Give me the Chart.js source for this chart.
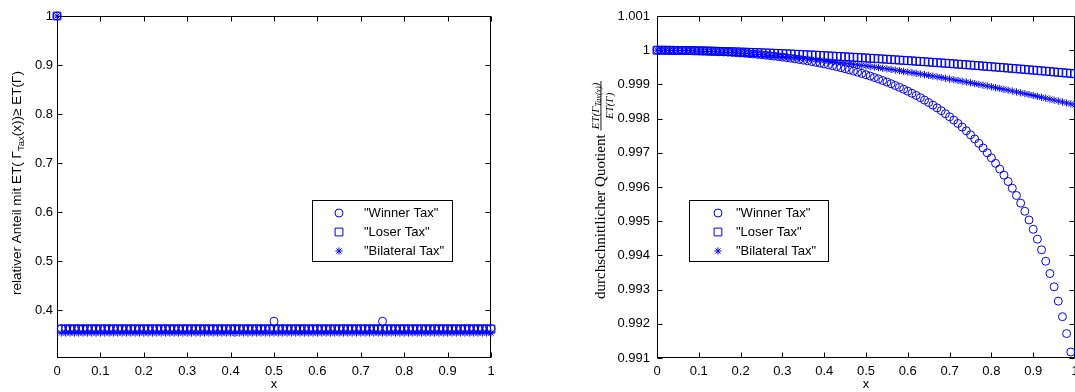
<!DOCTYPE html>
<html lang="de">
<head>
<meta charset="UTF-8">
<title>Winner / Loser / Bilateral Tax</title>
<script src="https://cdn.jsdelivr.net/npm/chart.js@4.4.0/dist/chart.umd.min.js"></script>
<style>
  body { margin: 0; background: #fff; }
  #wrap { position: relative; width: 1075px; height: 392px; overflow: hidden; }
  #left { position: absolute; left: 0; top: 0; }
  #right { position: absolute; left: 560px; top: 0; }
</style>
</head>
<body>
<div id="wrap">
  <canvas id="left" width="540" height="392"></canvas>
  <canvas id="right" width="530" height="392"></canvas>
</div>
<script>
// x grid shared by both panels
const xValues = [
  0, 0.01, 0.02, 0.03, 0.04, 0.05, 0.06, 0.07, 0.08, 0.09,
  0.1, 0.11, 0.12, 0.13, 0.14, 0.15, 0.16, 0.17, 0.18, 0.19,
  0.2, 0.21, 0.22, 0.23, 0.24, 0.25, 0.26, 0.27, 0.28, 0.29,
  0.3, 0.31, 0.32, 0.33, 0.34, 0.35, 0.36, 0.37, 0.38, 0.39,
  0.4, 0.41, 0.42, 0.43, 0.44, 0.45, 0.46, 0.47, 0.48, 0.49,
  0.5, 0.51, 0.52, 0.53, 0.54, 0.55, 0.56, 0.57, 0.58, 0.59,
  0.6, 0.61, 0.62, 0.63, 0.64, 0.65, 0.66, 0.67, 0.68, 0.69,
  0.7, 0.71, 0.72, 0.73, 0.74, 0.75, 0.76, 0.77, 0.78, 0.79,
  0.8, 0.81, 0.82, 0.83, 0.84, 0.85, 0.86, 0.87, 0.88, 0.89,
  0.9, 0.91, 0.92, 0.93, 0.94, 0.95, 0.96, 0.97, 0.98, 0.99,
  1
];

// left panel: relativer Anteil
const leftWinner = [
  1, 0.362, 0.362, 0.362, 0.362, 0.362, 0.362, 0.362, 0.362, 0.362,
  0.362, 0.362, 0.362, 0.362, 0.362, 0.362, 0.362, 0.362, 0.362, 0.362,
  0.362, 0.362, 0.362, 0.362, 0.362, 0.362, 0.362, 0.362, 0.362, 0.362,
  0.362, 0.362, 0.362, 0.362, 0.362, 0.362, 0.362, 0.362, 0.362, 0.362,
  0.362, 0.362, 0.362, 0.362, 0.362, 0.362, 0.362, 0.362, 0.362, 0.362,
  0.377, 0.362, 0.362, 0.362, 0.362, 0.362, 0.362, 0.362, 0.362, 0.362,
  0.362, 0.362, 0.362, 0.362, 0.362, 0.362, 0.362, 0.362, 0.362, 0.362,
  0.362, 0.362, 0.362, 0.362, 0.362, 0.377, 0.362, 0.362, 0.362, 0.362,
  0.362, 0.362, 0.362, 0.362, 0.362, 0.362, 0.362, 0.362, 0.362, 0.362,
  0.362, 0.362, 0.362, 0.362, 0.362, 0.362, 0.362, 0.362, 0.362, 0.362,
  0.362
];
const leftLoser = [
  1, 0.361, 0.361, 0.361, 0.361, 0.361, 0.361, 0.361, 0.361, 0.361,
  0.361, 0.361, 0.361, 0.361, 0.361, 0.361, 0.361, 0.361, 0.361, 0.361,
  0.361, 0.361, 0.361, 0.361, 0.361, 0.361, 0.361, 0.361, 0.361, 0.361,
  0.361, 0.361, 0.361, 0.361, 0.361, 0.361, 0.361, 0.361, 0.361, 0.361,
  0.361, 0.361, 0.361, 0.361, 0.361, 0.361, 0.361, 0.361, 0.361, 0.361,
  0.361, 0.361, 0.361, 0.361, 0.361, 0.361, 0.361, 0.361, 0.361, 0.361,
  0.361, 0.361, 0.361, 0.361, 0.361, 0.361, 0.361, 0.361, 0.361, 0.361,
  0.361, 0.361, 0.361, 0.361, 0.361, 0.361, 0.361, 0.361, 0.361, 0.361,
  0.361, 0.361, 0.361, 0.361, 0.361, 0.361, 0.361, 0.361, 0.361, 0.361,
  0.361, 0.361, 0.361, 0.361, 0.361, 0.361, 0.361, 0.361, 0.361, 0.361,
  0.361
];
const leftBilateral = [
  1, 0.353, 0.353, 0.353, 0.353, 0.353, 0.353, 0.353, 0.353, 0.353,
  0.353, 0.353, 0.353, 0.353, 0.353, 0.353, 0.353, 0.353, 0.353, 0.353,
  0.353, 0.353, 0.353, 0.353, 0.353, 0.353, 0.353, 0.353, 0.353, 0.353,
  0.353, 0.353, 0.353, 0.353, 0.353, 0.353, 0.353, 0.353, 0.353, 0.353,
  0.353, 0.352, 0.353, 0.353, 0.353, 0.353, 0.353, 0.353, 0.353, 0.353,
  0.353, 0.353, 0.353, 0.353, 0.353, 0.353, 0.353, 0.353, 0.353, 0.353,
  0.353, 0.353, 0.353, 0.353, 0.353, 0.353, 0.353, 0.353, 0.353, 0.353,
  0.353, 0.353, 0.353, 0.353, 0.353, 0.353, 0.353, 0.353, 0.353, 0.353,
  0.353, 0.353, 0.353, 0.353, 0.353, 0.353, 0.353, 0.353, 0.353, 0.353,
  0.353, 0.353, 0.353, 0.353, 0.353, 0.353, 0.353, 0.353, 0.353, 0.353,
  0.353
];

// right panel: durchschnittlicher Quotient
const rightWinner = [
  1.000000, 1.000000, 0.999999, 0.999998, 0.999997, 0.999996, 0.999994, 0.999991, 0.999988, 0.999985,
  0.999982, 0.999978, 0.999973, 0.999968, 0.999963, 0.999957, 0.999950, 0.999943, 0.999936, 0.999928,
  0.999919, 0.999910, 0.999900, 0.999890, 0.999879, 0.999867, 0.999855, 0.999842, 0.999828, 0.999813,
  0.999798, 0.999782, 0.999765, 0.999747, 0.999729, 0.999709, 0.999689, 0.999668, 0.999645, 0.999622,
  0.999597, 0.999572, 0.999545, 0.999517, 0.999488, 0.999457, 0.999425, 0.999392, 0.999357, 0.999321,
  0.999283, 0.999244, 0.999202, 0.999159, 0.999114, 0.999068, 0.999019, 0.998968, 0.998915, 0.998859,
  0.998801, 0.998740, 0.998677, 0.998611, 0.998541, 0.998469, 0.998393, 0.998314, 0.998231, 0.998144,
  0.998053, 0.997958, 0.997858, 0.997753, 0.997643, 0.997527, 0.997405, 0.997277, 0.997142, 0.997000,
  0.996850, 0.996692, 0.996525, 0.996348, 0.996161, 0.995963, 0.995752, 0.995528, 0.995290, 0.995036,
  0.994764, 0.994474, 0.994163, 0.993829, 0.993470, 0.993082, 0.992663, 0.992208, 0.991714, 0.991175,
  0.990584
];
const rightLoser = [
  1.000000, 1.000000, 0.999999, 0.999997, 0.999996, 0.999994, 0.999992, 0.999990, 0.999988, 0.999985,
  0.999983, 0.999980, 0.999977, 0.999974, 0.999970, 0.999967, 0.999963, 0.999959, 0.999956, 0.999952,
  0.999947, 0.999943, 0.999939, 0.999934, 0.999930, 0.999925, 0.999920, 0.999915, 0.999910, 0.999905,
  0.999899, 0.999894, 0.999889, 0.999883, 0.999877, 0.999871, 0.999865, 0.999859, 0.999853, 0.999847,
  0.999841, 0.999834, 0.999828, 0.999821, 0.999815, 0.999808, 0.999801, 0.999794, 0.999787, 0.999780,
  0.999772, 0.999765, 0.999758, 0.999750, 0.999743, 0.999735, 0.999727, 0.999719, 0.999711, 0.999703,
  0.999695, 0.999687, 0.999679, 0.999671, 0.999662, 0.999654, 0.999645, 0.999636, 0.999628, 0.999619,
  0.999610, 0.999601, 0.999592, 0.999583, 0.999574, 0.999565, 0.999555, 0.999546, 0.999536, 0.999527,
  0.999517, 0.999507, 0.999498, 0.999488, 0.999478, 0.999468, 0.999458, 0.999448, 0.999438, 0.999427,
  0.999417, 0.999407, 0.999396, 0.999386, 0.999375, 0.999364, 0.999354, 0.999343, 0.999332, 0.999321,
  0.999310
];
const rightBilateral = [
  1.000000, 1.000000, 0.999999, 0.999997, 0.999995, 0.999993, 0.999990, 0.999987, 0.999983, 0.999979,
  0.999975, 0.999970, 0.999965, 0.999959, 0.999954, 0.999947, 0.999941, 0.999934, 0.999927, 0.999919,
  0.999912, 0.999904, 0.999895, 0.999886, 0.999877, 0.999868, 0.999858, 0.999848, 0.999838, 0.999828,
  0.999817, 0.999806, 0.999794, 0.999783, 0.999770, 0.999758, 0.999746, 0.999733, 0.999720, 0.999706,
  0.999693, 0.999679, 0.999664, 0.999650, 0.999635, 0.999620, 0.999605, 0.999589, 0.999573, 0.999557,
  0.999541, 0.999524, 0.999507, 0.999490, 0.999472, 0.999455, 0.999437, 0.999418, 0.999400, 0.999381,
  0.999362, 0.999343, 0.999323, 0.999303, 0.999283, 0.999263, 0.999243, 0.999222, 0.999201, 0.999180,
  0.999158, 0.999136, 0.999114, 0.999092, 0.999069, 0.999047, 0.999024, 0.999000, 0.998977, 0.998953,
  0.998929, 0.998905, 0.998881, 0.998856, 0.998831, 0.998806, 0.998780, 0.998755, 0.998729, 0.998703,
  0.998676, 0.998650, 0.998623, 0.998596, 0.998569, 0.998541, 0.998513, 0.998485, 0.998457, 0.998429,
  0.998400
];

// tick values
const xTicks = [0, 0.1, 0.2, 0.3, 0.4, 0.5, 0.6, 0.7, 0.8, 0.9, 1];
const leftYTicks = [0.4, 0.5, 0.6, 0.7, 0.8, 0.9, 1];
const rightYTicks = [0.991, 0.992, 0.993, 0.994, 0.995, 0.996, 0.997, 0.998, 0.999, 1, 1.001];

const seriesNames = ['"Winner Tax"', '"Loser Tax"', '"Bilateral Tax"'];

const SANS = "'Liberation Sans', Arial, sans-serif";
const SERIF = "'Liberation Serif', 'Times New Roman', serif";
const BLUE = '#0000ff';
const MARKERS = [
  { style: 'circle', radius: 4 },
  { style: 'rect', radius: 5.5 },
  { style: 'star', radius: 3.6 }
];

function points(ys) {
  return xValues.map((x, i) => ({ x: x, y: ys[i] }));
}

// hand drawn markers for the legend (same shapes chart.js uses)
function drawMarker(ctx, style, r, x, y) {
  ctx.beginPath();
  if (style === 'circle') {
    ctx.arc(x, y, r, 0, Math.PI * 2);
  } else if (style === 'rect') {
    const s = r * Math.SQRT1_2;
    ctx.rect(x - s, y - s, 2 * s, 2 * s);
  } else {
    const d = r * Math.SQRT1_2;
    ctx.moveTo(x - r, y); ctx.lineTo(x + r, y);
    ctx.moveTo(x, y - r); ctx.lineTo(x, y + r);
    ctx.moveTo(x - d, y - d); ctx.lineTo(x + d, y + d);
    ctx.moveTo(x - d, y + d); ctx.lineTo(x + d, y - d);
  }
  ctx.stroke();
}

// rotated text made of pieces (font, dy) so subscripts work
function measure(ctx, parts) {
  let w = 0;
  parts.forEach(p => { ctx.font = p.font; p.w = ctx.measureText(p.text).width; w += p.w; });
  return w;
}
function drawParts(ctx, parts, x0) {
  let x = x0;
  parts.forEach(p => {
    ctx.font = p.font;
    ctx.fillText(p.text, x, p.dy || 0);
    x += p.w;
  });
}

const matlabAxes = {
  id: 'matlabAxes',
  beforeDatasetsDraw(chart) {
    const { ctx, chartArea: a, scales } = chart;
    const xs = scales.x, ys = scales.y;
    const L = Math.round(a.left) + 0.5, R = Math.round(a.right) - 0.5;
    const T = Math.round(a.top) + 0.5, B = Math.round(a.bottom) - 0.5;
    ctx.save();
    ctx.strokeStyle = '#000';
    ctx.lineWidth = 1;
    ctx.strokeRect(L, T, R - L, B - T);
    ctx.beginPath();
    xTicks.forEach(v => {
      const px = Math.round(xs.getPixelForValue(v)) + 0.5;
      ctx.moveTo(px, B); ctx.lineTo(px, B - 5);
      ctx.moveTo(px, T); ctx.lineTo(px, T + 5);
    });
    chart.options.plugins.matlabAxes.yTicks.forEach(v => {
      const py = Math.round(ys.getPixelForValue(v)) + 0.5;
      ctx.moveTo(L, py); ctx.lineTo(L + 5, py);
      ctx.moveTo(R, py); ctx.lineTo(R - 5, py);
    });
    ctx.stroke();
    ctx.restore();
  },
  afterDraw(chart, args, opts) {
    const ctx = chart.ctx;
    // legend box
    const lg = opts.legend;
    ctx.save();
    ctx.fillStyle = '#fff';
    ctx.fillRect(lg.x, lg.y, lg.w, lg.h);
    ctx.strokeStyle = '#000';
    ctx.lineWidth = 1;
    ctx.strokeRect(lg.x + 0.5, lg.y + 0.5, lg.w, lg.h);
    ctx.font = '13px ' + SANS;
    ctx.textBaseline = 'middle';
    seriesNames.forEach((name, i) => {
      const cy = lg.y + 13 + i * 19;
      ctx.strokeStyle = BLUE;
      ctx.lineWidth = 1;
      drawMarker(ctx, MARKERS[i].style, MARKERS[i].radius, lg.x + lg.markerDx, cy);
      ctx.fillStyle = '#000';
      ctx.fillText(name, lg.x + lg.textDx, cy);
    });
    ctx.restore();
    // y label
    ctx.save();
    ctx.fillStyle = '#000';
    ctx.textBaseline = 'alphabetic';
    ctx.translate(opts.title.x, opts.title.y);
    ctx.rotate(-Math.PI / 2);
    opts.title.draw(ctx);
    ctx.restore();
  }
};

function leftTitle(ctx) {
  const parts = [
    { text: 'relativer Anteil mit ET( Γ', font: '13.5px ' + SANS },
    { text: 'Tax', font: '9.5px ' + SANS, dy: 3 },
    { text: '(x))≥ ET(Γ)', font: '13.5px ' + SANS }
  ];
  const w = measure(ctx, parts);
  drawParts(ctx, parts, -w / 2);
}

function rightTitle(ctx) {
  const main = [{ text: 'durchschnittlicher Quotient ', font: '15px ' + SERIF }];
  const num = [
    { text: 'ET(Γ', font: 'italic 11px ' + SERIF },
    { text: 'Tax(x)', font: 'italic 8px ' + SERIF, dy: 2 },
    { text: ')', font: 'italic 11px ' + SERIF }
  ];
  const den = [{ text: 'ET(Γ)', font: 'italic 11px ' + SERIF }];
  const mw = measure(ctx, main);
  const nw = measure(ctx, num);
  const dw = measure(ctx, den);
  const fw = Math.max(nw, dw) + 3;
  const x0 = -(mw + fw) / 2;
  drawParts(ctx, main, x0);
  const fx = x0 + mw;
  num.forEach(p => { p.dy = (p.dy || 0) - 6.5; });
  drawParts(ctx, num, fx + (fw - nw) / 2);
  den[0].dy = 8;
  drawParts(ctx, den, fx + (fw - dw) / 2);
  ctx.fillRect(fx, -4.5, fw, 0.9);
}

function makeChart(id, cfg) {
  const font = { family: SANS, size: 13 };
  const datasets = [cfg.winner, cfg.loser, cfg.bilateral].map((ys, i) => ({
    label: seriesNames[i],
    data: points(ys),
    order: 3 - i,
    clip: { left: 8, top: 8, right: 8, bottom: 0 },
    pointStyle: MARKERS[i].style,
    pointRadius: MARKERS[i].radius,
    pointBorderWidth: 1,
    pointBorderColor: BLUE,
    pointBackgroundColor: 'rgba(0,0,0,0)',
    showLine: false
  }));
  return new Chart(document.getElementById(id), {
    type: 'scatter',
    data: { datasets: datasets },
    options: {
      responsive: false,
      animation: false,
      events: [],
      layout: { padding: { left: 0, right: cfg.padRight, top: 16, bottom: 0 } },
      plugins: {
        legend: { display: false },
        tooltip: { enabled: false },
        matlabAxes: { yTicks: cfg.yTicks, legend: cfg.legend, title: cfg.title }
      },
      scales: {
        x: {
          type: 'linear', min: 0, max: 1,
          afterBuildTicks: s => { s.ticks = xTicks.map(v => ({ value: v })); },
          afterFit: s => { s.height = 34; s.paddingLeft = 0; s.paddingRight = 0; },
          grid: { display: false, drawTicks: false },
          border: { display: false },
          ticks: { autoSkip: false, maxRotation: 0, padding: 6, color: '#000', font: font,
                   callback: v => String(v) },
          title: { display: true, text: 'x', padding: 0, color: '#000', font: font }
        },
        y: {
          type: 'linear', min: cfg.yMin, max: cfg.yMax,
          afterBuildTicks: s => { s.ticks = cfg.yTicks.map(v => ({ value: v })); },
          afterFit: s => { s.width = cfg.yWidth; s.paddingTop = 0; s.paddingBottom = 0; },
          grid: { display: false, drawTicks: false },
          border: { display: false },
          ticks: { autoSkip: false, padding: cfg.yPad, color: '#000', font: font,
                   callback: v => String(v) }
        }
      }
    },
    plugins: [matlabAxes]
  });
}

makeChart('left', {
  winner: leftWinner, loser: leftLoser, bilateral: leftBilateral,
  yMin: 0.302, yMax: 1, yTicks: leftYTicks, yWidth: 57, yPad: 4, padRight: 49,
  legend: { x: 312, y: 200, w: 140, h: 61, markerDx: 27, textDx: 52 },
  title: { x: 21, y: 183, draw: leftTitle }
});

// canvas runs past the page edge; the wrapper crops it at x = 1075 like the original
makeChart('right', {
  winner: rightWinner, loser: rightLoser, bilateral: rightBilateral,
  yMin: 0.991, yMax: 1.001, yTicks: rightYTicks, yWidth: 97, yPad: 7, padRight: 15,
  legend: { x: 129, y: 200, w: 139, h: 61, markerDx: 29, textDx: 47 },
  title: { x: 45, y: 190, draw: rightTitle }
});
</script>
</body>
</html>
